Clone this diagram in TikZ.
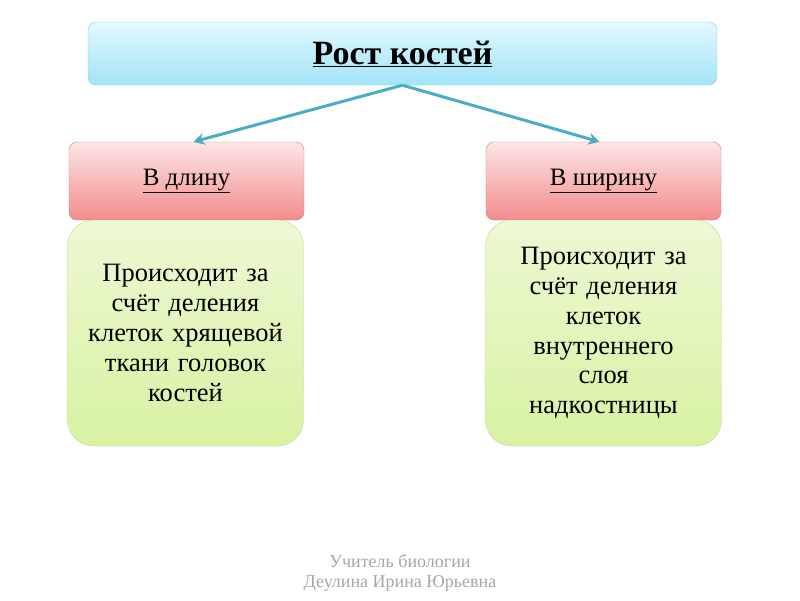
\documentclass[tikz,border=0pt]{standalone}
\usepackage{fontspec}
\setmainfont{Liberation Serif}
\usetikzlibrary{positioning,arrows.meta}
\definecolor{titletop}{HTML}{E2F8FE}
\definecolor{titlebot}{HTML}{A2E4F6}
\definecolor{titleedge}{HTML}{93CDDD}
\definecolor{redtop}{HTML}{FDE6E6}
\definecolor{redbot}{HTML}{F28B8B}
\definecolor{rededge}{HTML}{C9807E}
\definecolor{greentop}{HTML}{EDF8D4}
\definecolor{greenbot}{HTML}{D8F2A2}
\definecolor{greenedge}{HTML}{C3D69B}
\definecolor{arrowcol}{HTML}{4BACC6}
\tikzset{
  titlebox/.style={draw=titleedge, rounded corners=8pt, top color=titletop, bottom color=titlebot,
    minimum width=629pt, minimum height=63pt, font=\fontsize{34}{38}\selectfont\bfseries},
  headbox/.style={draw=rededge, rounded corners=8pt, top color=redtop, bottom color=redbot,
    minimum width=235pt, minimum height=78pt, font=\fontsize{25}{28}\selectfont},
  textbox/.style={draw=greenedge, rounded corners=26pt, top color=greentop, bottom color=greenbot,
    minimum width=236pt, minimum height=226pt, text width=225pt, align=center,
    font=\fontsize{26.5}{29.8}\selectfont},
  link/.style={-{Stealth[length=11pt,width=12pt]}, draw=arrowcol, line width=3pt}
}
\begin{document}
\begin{tikzpicture}[x=1pt, y=-1pt]
  \useasboundingbox (0,0) rectangle (800,600);

  % заголовок
  \node[titlebox] (title) at (402.5,53.5) {\underline{Рост костей}};

  % ветви
  \node[headbox] (lenhead) at (186.5,181) {\underline{В длину}};
  \node[headbox] (widhead) at (603.5,181) {\underline{В ширину}};

  \node[textbox] (lentext) at (185.5,333) {Происходит за\\ счёт деления\\ клеток хрящевой\\ ткани головок\\ костей};
  \node[textbox] (widtext) at (603.5,333) {Происходит за\\ счёт деления\\ клеток\\ внутреннего\\ слоя\\ надкостницы};

  % стрелки
  \draw[link] (title.south) -- ([xshift=7pt]lenhead.north);
  \draw[link] (title.south) -- ([xshift=-4pt]widhead.north);

  % подпись
  \node[text=black!35, align=center, font=\fontsize{18}{20}\selectfont] (author) at (400,573)
    {Учитель биологии\\ Деулина Ирина Юрьевна};
\end{tikzpicture}
\end{document}
